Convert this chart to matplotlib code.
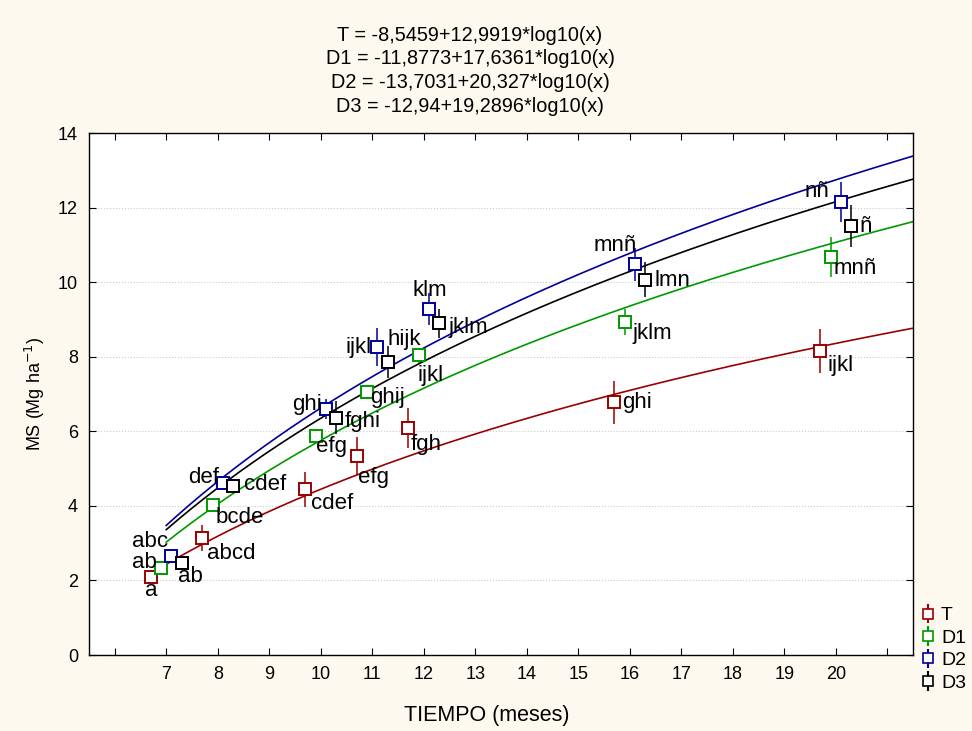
import numpy as np
import matplotlib
matplotlib.use("Agg")
import matplotlib.pyplot as plt

plt.rcParams['font.family'] = ['Liberation Sans', 'DejaVu Sans']

# datos
meses = np.array([7, 8, 10, 11, 12, 16, 20])
grupos = ['T', 'D1', 'D2', 'D3']
desplaz = {'T': -0.3, 'D1': -0.1, 'D2': 0.1, 'D3': 0.3}

ms_T = [2.09, 3.14, 4.45, 5.34, 6.09, 6.78, 8.15]
ms_D1 = [2.33, 4.02, 5.87, 7.05, 8.04, 8.93, 10.67]
ms_D2 = [2.65, 4.61, 6.60, 8.26, 9.28, 10.48, 12.15]
ms_D3 = [2.47, 4.53, 6.36, 7.86, 8.90, 10.06, 11.50]

err_T = [0.10, 0.34, 0.47, 0.50, 0.54, 0.58, 0.60]
err_D1 = [0.08, 0.10, 0.12, 0.15, 0.20, 0.36, 0.54]
err_D2 = [0.10, 0.12, 0.27, 0.50, 0.43, 0.44, 0.54]
err_D3 = [0.08, 0.15, 0.44, 0.43, 0.39, 0.47, 0.56]

letras_T = ['a', 'abcd', 'cdef', 'efg', 'fgh', 'ghi', 'ijkl']
letras_D1 = ['ab', 'bcde', 'efg', 'ghij', 'ijkl', 'jklm', 'mnñ']
letras_D2 = ['abc', 'def', 'ghi', 'ijkl', 'klm', 'mnñ', 'nñ']
letras_D3 = ['ab', 'cdef', 'fghi', 'hijk', 'jklm', 'lmn', 'ñ']

# coeficientes del ajuste y = a + b*log10(x)
coef_a = [-8.5459, -11.8773, -13.7031, -12.94]
coef_b = [12.9919, 17.6361, 20.327, 19.2896]
ecuaciones = ['T = -8,5459+12,9919*log10(x)',
              'D1 = -11,8773+17,6361*log10(x)',
              'D2 = -13,7031+20,327*log10(x)',
              'D3 = -12,94+19,2896*log10(x)']

ms = {'T': ms_T, 'D1': ms_D1, 'D2': ms_D2, 'D3': ms_D3}
err = {'T': err_T, 'D1': err_D1, 'D2': err_D2, 'D3': err_D3}
letras = {'T': letras_T, 'D1': letras_D1, 'D2': letras_D2, 'D3': letras_D3}
colores = {'T': '#990000', 'D1': '#009900', 'D2': '#000099', 'D3': '#000000'}

# posicion de las letras (pixeles respecto al punto)
off_letras = {
    'T': [(0, -13), (29, -16), (27, -14), (17, -22), (18, -17), (23, 0), (20, -14)],
    'D1': [(-17, 6), (27, -12), (16, -10), (20, -5), (12, -20), (28, -11), (25, -11)],
    'D2': [(-21, 15), (-19, 6), (-19, 4), (-19, 0), (1, 18), (-20, 19), (-24, 10)],
    'D3': [(9, -14), (32, 2), (26, -4), (17, 22), (29, -4), (27, -1), (14, 0)],
}

fondo = '#fdf9ee'
fig = plt.figure(figsize=(9.72, 7.31), dpi=100, facecolor=fondo)
ax = fig.add_axes([89/972, 1-655/731, (913-89)/972, (655-133)/731])
ax.set_facecolor('white')

xc = np.linspace(7, 21.5, 300)
for i, g in enumerate(grupos):
    c = colores[g]
    ax.plot(xc, coef_a[i] + coef_b[i]*np.log10(xc), color=c, lw=1.2, zorder=2)
    xs = meses + desplaz[g]
    ax.errorbar(xs, ms[g], yerr=err[g], fmt='s', ms=8, mfc='white', mec=c,
                mew=1.4, ecolor=c, elinewidth=1.1, capsize=0, zorder=3)
    for xx, yy, t, o in zip(xs, ms[g], letras[g], off_letras[g]):
        ax.annotate(t, (xx, yy), xytext=o, textcoords='offset pixels',
                    ha='center', va='center', fontsize=16, zorder=4)

ax.set_xlim(5.5, 21.5)
ax.set_ylim(0, 14)
ax.set_xticks(np.arange(6, 22))
ax.set_xticklabels(['' if v in (6, 21) else str(v) for v in range(6, 22)])
ax.set_yticks(np.arange(0, 15, 2))
ax.tick_params(direction='in', top=True, right=True, labelsize=13, length=5, pad=8)
ax.yaxis.grid(True, linestyle=':', color='#cccccc', lw=0.8)
for s in ax.spines.values():
    s.set_linewidth(1.0)

ax.set_xlabel('TIEMPO (meses)', fontsize=15.5)
ax.xaxis.set_label_coords((487-89)/824, (655-705)/522)
ax.set_ylabel('MS (Mg ha$^{-1}$)', fontsize=13, labelpad=8)

fig.text(470/972, 1-26/731, '\n'.join(ecuaciones), ha='center', va='top',
         fontsize=14.3, linespacing=1.3)

# leyenda con barras de error y tope
leg_h = []
for g in grupos:
    leg_h.append(ax.errorbar([], [], yerr=[], fmt='s', ms=7, mfc='white',
                             mec=colores[g], ecolor=colores[g], capsize=5, mew=1.2))
fig.legend(leg_h, grupos, loc='upper left', bbox_to_anchor=(910/972, 1-597/731),
           frameon=False, fontsize=14, handlelength=0.8, handletextpad=0.3,
           labelspacing=0.25, borderpad=0)

fig.savefig('out.png', dpi=100, facecolor=fondo)
